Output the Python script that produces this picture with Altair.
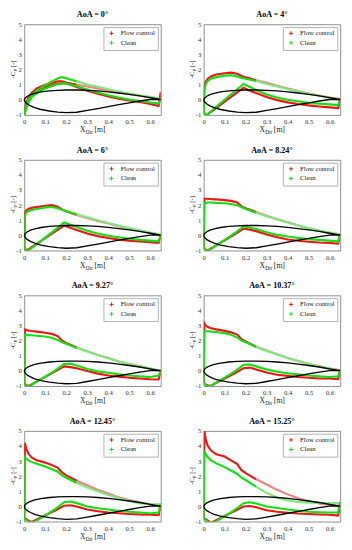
import altair as alt
import pandas as pd

SERIF = "Liberation Serif"
RED = "#f01414"
GREEN = "#12e012"
RED_AFT = "#f47f7f"
GREEN_AFT = "#7fe87f"
W, H = 143, 95

TITLES = ["AoA = 0°", "AoA = 4°", "AoA = 6°", "AoA = 8.24°",
          "AoA = 9.27°", "AoA = 10.37°", "AoA = 12.45°", "AoA = 15.25°"]
SERIES = ["Flow control", "Clean"]

# chordwise stations (m)
UPPER_X = [0, 0.003, 0.01, 0.02, 0.035, 0.06, 0.1, 0.13, 0.16, 0.18, 0.2,
           0.25, 0.3, 0.35, 0.4, 0.45, 0.5, 0.55, 0.6, 0.65]
LOWER_X = [0, 0.01, 0.02, 0.035, 0.05, 0.1, 0.15, 0.19, 0.22, 0.25, 0.3,
           0.35, 0.4, 0.45, 0.5, 0.55, 0.6, 0.64, 0.65]

# -Cp, suction side, flow control
FC_UPPER = [
    [-1.0, -0.6, -0.2, 0.15, 0.45, 0.75, 1.0, 1.12, 1.22, 1.22, 1.15, 1.0, 0.88, 0.75, 0.62, 0.5, 0.38, 0.27, 0.15, 0.05],
    [-0.8, 0.9, 1.2, 1.4, 1.55, 1.68, 1.76, 1.8, 1.72, 1.58, 1.5, 1.3, 1.12, 0.93, 0.75, 0.58, 0.42, 0.28, 0.15, 0.05],
    [-0.8, 1.5, 1.65, 1.75, 1.82, 1.88, 1.95, 2.0, 1.9, 1.72, 1.6, 1.35, 1.15, 0.95, 0.78, 0.6, 0.45, 0.3, 0.15, 0.0],
    [-0.8, 2.4, 2.42, 2.42, 2.4, 2.38, 2.33, 2.28, 2.18, 1.92, 1.8, 1.55, 1.3, 1.07, 0.86, 0.66, 0.47, 0.3, 0.15, 0.05],
    [-0.8, 2.75, 2.7, 2.67, 2.64, 2.6, 2.52, 2.45, 2.3, 2.0, 1.85, 1.55, 1.3, 1.05, 0.85, 0.62, 0.45, 0.3, 0.15, 0.0],
    [-0.8, 3.15, 3.0, 2.9, 2.82, 2.75, 2.65, 2.55, 2.4, 2.1, 1.95, 1.6, 1.35, 1.1, 0.86, 0.65, 0.45, 0.3, 0.15, 0.05],
    [-0.8, 4.2, 3.8, 3.5, 3.25, 3.05, 2.9, 2.75, 2.55, 2.25, 2.05, 1.7, 1.4, 1.1, 0.85, 0.6, 0.42, 0.27, 0.15, 0.05],
    [-0.8, 5.0, 4.4, 4.0, 3.7, 3.45, 3.3, 3.05, 2.8, 2.4, 2.2, 1.8, 1.45, 1.1, 0.8, 0.55, 0.35, 0.2, 0.1, 0.05],
]
# -Cp, pressure side, flow control
FC_LOWER = [
    [-1.0, -0.45, -0.1, 0.25, 0.45, 0.85, 1.05, 1.1, 1.0, 0.85, 0.6, 0.4, 0.22, 0.07, -0.05, -0.15, -0.28, -0.4, 0.5],
    [-0.8, -1.05, -0.95, -0.8, -0.65, -0.13, 0.39, 0.8, 0.6, 0.45, 0.18, -0.02, -0.17, -0.28, -0.37, -0.44, -0.5, -0.55, 0.05],
    [-0.8, -1.0, -0.92, -0.78, -0.64, -0.18, 0.28, 0.65, 0.5, 0.35, 0.12, -0.05, -0.18, -0.28, -0.35, -0.4, -0.45, -0.5, 0.0],
    [-0.8, -0.95, -1.0, -0.87, -0.75, -0.33, 0.08, 0.45, 0.38, 0.28, 0.05, -0.13, -0.27, -0.36, -0.42, -0.47, -0.5, -0.55, 0.05],
    [-0.8, -0.95, -1.0, -0.89, -0.77, -0.39, -0.01, 0.3, 0.25, 0.18, 0.0, -0.18, -0.3, -0.38, -0.45, -0.5, -0.55, -0.57, 0.0],
    [-0.8, -0.9, -0.97, -0.98, -0.86, -0.5, -0.15, 0.18, 0.22, 0.1, -0.1, -0.25, -0.33, -0.4, -0.45, -0.5, -0.5, -0.55, 0.05],
    [-0.8, -0.85, -0.95, -1.02, -0.92, -0.58, -0.25, 0.05, 0.08, 0.0, -0.2, -0.32, -0.4, -0.45, -0.5, -0.53, -0.55, -0.58, 0.05],
    [-0.8, -0.85, -0.95, -1.05, -0.98, -0.62, -0.28, 0.0, 0.03, -0.05, -0.25, -0.35, -0.42, -0.47, -0.5, -0.53, -0.55, -0.6, 0.05],
]
# -Cp, suction side, clean
CL_UPPER = [
    [-1.0, -0.7, -0.35, 0.0, 0.3, 0.6, 0.95, 1.2, 1.42, 1.5, 1.42, 1.22, 1.02, 0.86, 0.7, 0.55, 0.42, 0.3, 0.2, 0.05],
    [-0.8, 0.6, 1.05, 1.25, 1.4, 1.5, 1.6, 1.62, 1.55, 1.45, 1.4, 1.25, 1.05, 0.88, 0.7, 0.55, 0.4, 0.27, 0.13, 0.0],
    [-0.8, 1.3, 1.5, 1.6, 1.68, 1.75, 1.85, 1.88, 1.8, 1.7, 1.6, 1.4, 1.2, 1.0, 0.82, 0.65, 0.48, 0.33, 0.18, 0.05],
    [-0.8, 2.1, 2.15, 2.17, 2.17, 2.15, 2.12, 2.08, 2.0, 1.86, 1.75, 1.5, 1.27, 1.05, 0.85, 0.66, 0.48, 0.32, 0.18, 0.05],
    [-0.8, 2.35, 2.37, 2.37, 2.36, 2.33, 2.28, 2.2, 2.05, 1.9, 1.8, 1.52, 1.28, 1.05, 0.83, 0.63, 0.45, 0.3, 0.15, 0.0],
    [-0.8, 2.6, 2.62, 2.62, 2.6, 2.57, 2.5, 2.4, 2.2, 2.0, 1.9, 1.58, 1.32, 1.08, 0.86, 0.65, 0.47, 0.3, 0.15, 0.0],
    [-0.8, 3.25, 3.15, 3.05, 2.95, 2.82, 2.65, 2.48, 2.3, 2.05, 1.9, 1.55, 1.25, 1.0, 0.75, 0.55, 0.37, 0.22, 0.15, 0.15],
    [-0.8, 3.7, 3.45, 3.25, 3.05, 2.85, 2.6, 2.38, 2.15, 1.9, 1.75, 1.3, 0.9, 0.6, 0.4, 0.3, 0.25, 0.25, 0.22, 0.22],
]
# -Cp, pressure side, clean
CL_LOWER = [
    [-1.0, -0.55, -0.2, 0.15, 0.35, 0.75, 1.0, 1.1, 1.0, 0.9, 0.68, 0.48, 0.3, 0.15, 0.02, -0.08, -0.18, -0.25, 0.0],
    [-0.8, -1.05, -0.93, -0.76, -0.58, 0.0, 0.58, 1.05, 0.85, 0.65, 0.35, 0.15, 0.0, -0.1, -0.2, -0.25, -0.3, -0.35, 0.0],
    [-0.8, -1.0, -1.0, -0.85, -0.7, -0.15, 0.4, 0.85, 0.7, 0.55, 0.3, 0.12, -0.02, -0.12, -0.22, -0.3, -0.35, -0.4, 0.05],
    [-0.8, -1.0, -1.03, -0.9, -0.76, -0.3, 0.16, 0.6, 0.52, 0.42, 0.2, 0.03, -0.08, -0.17, -0.25, -0.3, -0.35, -0.4, 0.05],
    [-0.8, -1.0, -1.05, -0.93, -0.8, -0.38, 0.05, 0.45, 0.48, 0.35, 0.12, -0.03, -0.12, -0.22, -0.3, -0.35, -0.4, -0.3, 0.0],
    [-0.8, -0.95, -1.03, -1.0, -0.85, -0.45, -0.02, 0.4, 0.42, 0.3, 0.1, -0.05, -0.15, -0.23, -0.3, -0.35, -0.4, -0.35, 0.0],
    [-0.8, -0.9, -1.0, -1.1, -1.0, -0.6, -0.15, 0.28, 0.33, 0.22, 0.0, -0.12, -0.2, -0.28, -0.35, -0.4, -0.45, -0.4, 0.2],
    [-0.8, -0.9, -1.0, -1.08, -1.05, -0.65, -0.2, 0.22, 0.28, 0.2, 0.0, -0.1, -0.2, -0.28, -0.35, -0.38, -0.4, -0.4, 0.3],
]

# airfoil outline (scaled), drawn in every panel
FOIL_X = [0, 0.005, 0.015, 0.03, 0.05, 0.08, 0.12, 0.16, 0.2, 0.25, 0.3,
          0.35, 0.4, 0.45, 0.5, 0.55, 0.6, 0.65]
FOIL_UPPER = [0, 0.12, 0.24, 0.34, 0.43, 0.52, 0.59, 0.63, 0.65, 0.65, 0.63,
              0.59, 0.53, 0.45, 0.36, 0.26, 0.14, 0.02]
FOIL_LOWER = [0, -0.15, -0.28, -0.4, -0.52, -0.64, -0.74, -0.81, -0.85, -0.82,
              -0.7, -0.58, -0.45, -0.32, -0.2, -0.08, 0.02, 0.02]

X_TICKS = [0, 0.1, 0.2, 0.3, 0.4, 0.5, 0.6]
Y_TICKS = [-1, 0, 1, 2, 3, 4, 5]

# ---- tables built from the arrays above ----
KEYS = ["Flow control", "Clean", "Flow control ", "Clean "]  # aft keys end with a space
rows = []
for p in range(8):
    for s, series, up, lo in ((0, SERIES[0], FC_UPPER[p], FC_LOWER[p]),
                              (1, SERIES[1], CL_UPPER[p], CL_LOWER[p])):
        for surf, xs, ys in (("upper", UPPER_X, up), ("lower", LOWER_X, lo)):
            for i, (x, y) in enumerate(zip(xs, ys)):
                parts = []
                if surf == "upper":
                    if x <= 0.25:
                        parts.append("front")
                    if x >= 0.25:
                        parts.append("aft")
                else:
                    parts.append("front")
                for part in parts:
                    key = KEYS[s] if part == "front" else KEYS[s + 2]
                    rows.append(dict(panel=p, series=series, key=key,
                                     seg=surf + "-" + part, i=i, x=x, cp=y))
cp_df = pd.DataFrame(rows)

foil_rows = []
for i, (x, y) in enumerate(zip(FOIL_X, FOIL_UPPER)):
    foil_rows.append(dict(i=i, x=x, cp=y))
n = len(FOIL_X)
for j, (x, y) in enumerate(zip(FOIL_X[::-1], FOIL_LOWER[::-1])):
    foil_rows.append(dict(i=n + j, x=x, cp=y))
foil_df = pd.DataFrame(foil_rows)

x_axis = alt.Axis(values=X_TICKS, labelExpr="'' + datum.value", title=None,
                  grid=False, ticks=False, domain=False, labelFlush=False,
                  labelFont=SERIF, labelFontSize=7, labelColor="#333",
                  labelPadding=3)
y_axis = alt.Axis(values=Y_TICKS, labelExpr="'' + datum.value", title=None,
                  grid=False, ticks=False, domain=False, labelFlush=False,
                  labelFont=SERIF, labelFontSize=7, labelColor="#333",
                  labelPadding=3)
X = alt.X("x:Q", scale=alt.Scale(domain=[0, 0.65], nice=False, zero=False), axis=x_axis)
Y = alt.Y("cp:Q", scale=alt.Scale(domain=[-1, 5], nice=False), axis=y_axis)
COLOR = alt.Color("key:N",
                  scale=alt.Scale(domain=KEYS, range=[RED, GREEN, RED_AFT, GREEN_AFT]),
                  legend=alt.Legend(title=None, orient="top-right", offset=3,
                                    values=SERIES,
                                    padding=3, strokeColor="#b0b0b0",
                                    fillColor="white", labelFont=SERIF,
                                    labelFontSize=7, labelColor="#111",
                                    symbolType="M-1,0H1M0,-1V1",
                                    symbolSize=18, symbolStrokeWidth=1,
                                    rowPadding=1, labelOffset=6,
                                    symbolOffset=2))


def label(txt, x, y, size, angle=0, weight="normal"):
    return alt.Chart(pd.DataFrame({"t": [txt]})).mark_text(
        align="left", baseline="alphabetic", font=SERIF, fontSize=size,
        angle=angle, fontWeight=weight, color="#222"
    ).encode(text="t:N", x=alt.value(x), y=alt.value(y))


def panel(p):
    d = cp_df[cp_df.panel == p]
    layers = []
    for s in SERIES:
        layers.append(
            alt.Chart(d[d.series == s]).mark_line(strokeWidth=2.2, clip=True).encode(
                x=X, y=Y, color=COLOR, detail="seg:N", order="i:Q"))
    layers.append(alt.Chart(foil_df).mark_line(color="black", strokeWidth=1.4).encode(
        x=X, y=Y, order="i:Q"))
    cx = W / 2 - 13
    layers += [
        label("X", cx, H + 18, 8),
        label("Dir", cx + 6, H + 20, 5.5),
        label("[m]", cx + 15, H + 18, 8),
    ]
    cy = H / 2
    layers += [
        label("-C", -10, cy + 9, 7, angle=270),
        label("P", -8, cy + 2, 5, angle=270),
        label("[-]", -10, cy - 2.5, 7, angle=270),
    ]
    return alt.layer(*layers).properties(
        width=W, height=H,
        title=alt.TitleParams(TITLES[p], font=SERIF, fontSize=8.5,
                              fontWeight="bold", offset=2, color="black"))


rows_c = [alt.hconcat(panel(2 * r), panel(2 * r + 1), spacing=24)
          .resolve_legend(color="independent")
          for r in range(4)]
chart = alt.vconcat(*rows_c, spacing=10).resolve_legend(
    color="independent"
).configure_view(stroke="#8c8c8c", strokeWidth=1).properties(
    padding={"top": -11, "left": 0, "right": 0, "bottom": 0})

chart.save("out.html", embed_options={"renderer": "svg", "actions": False})
